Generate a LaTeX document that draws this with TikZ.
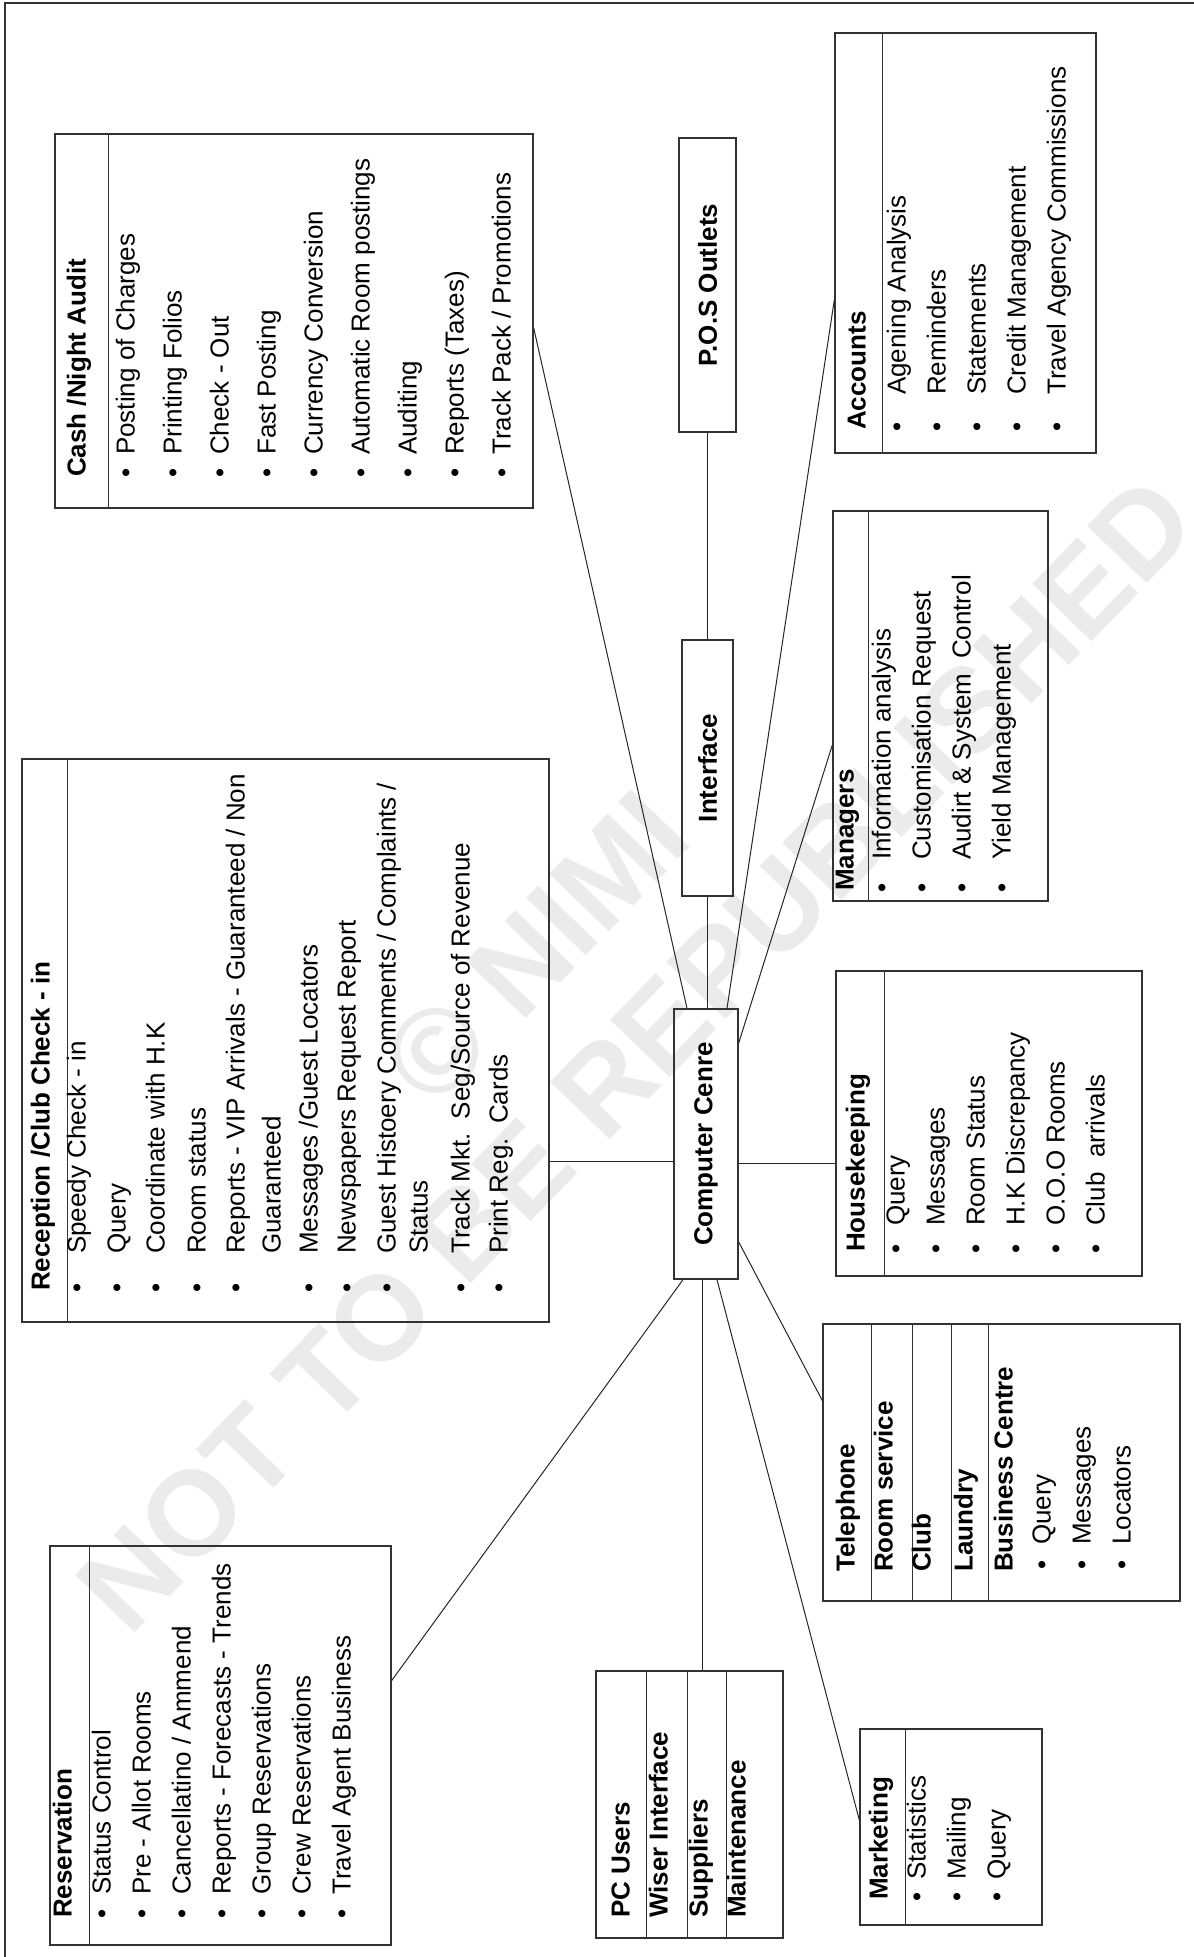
\documentclass[tikz,border=0pt]{standalone}
\usepackage{fontspec}
\setmainfont{Liberation Sans}
\usepackage{graphicx}
\usetikzlibrary{positioning,calc}
\newcommand{\diafont}{\fontsize{26pt}{31pt}\selectfont}

\begin{document}
\begin{tikzpicture}[
    x=1pt, y=-1pt,
    rule/.style={draw=black!80, line width=1.4pt},
    box/.style={rule, inner sep=0pt},
    lbl/.style={font=\diafont\bfseries},
    ttl/.style={rotate=90, anchor=mid west, inner sep=0pt, font=\diafont\bfseries},
    itm/.style={rotate=90, anchor=mid west, inner sep=0pt, font=\diafont},
    bul/.style={rotate=90, anchor=mid, inner sep=0pt, font=\diafont},
    link/.style={draw=black!85, line width=1pt},
    wmark/.style={rotate=46, font=\fontsize{120pt}{130pt}\selectfont\bfseries, text=black!8}
]
\useasboundingbox (0,0) rectangle (1194,1957);

% watermark
\node[wmark] (wm1) at (536,948) {\textcopyright\ NIMI};
\node[wmark] (wm2) at (636,1054) {NOT TO BE REPUBLISHED};

% frame
\draw[rule] (5,1957) -- (5,3) -- (1194,3);

% boxes
\node[box, minimum width=478, minimum height=374] (cash) at (294,321) {};
\node[box, lbl, minimum width=57, minimum height=294] (pos) at (707.5,285) {\rotatebox{90}{P.O.S Outlets}};
\node[box, lbl, minimum width=51, minimum height=256] (ifc) at (707.5,768) {\rotatebox{90}{Interface}};
\node[box, lbl, minimum width=64, minimum height=270] (cc) at (706,1144) {\rotatebox{90}{Computer Cenre}};
\node[box, minimum width=261, minimum height=420] (acc) at (965.5,243) {};
\node[box, minimum width=215, minimum height=390] (mgr) at (940.5,706) {};
\node[box, minimum width=306, minimum height=305] (hk) at (989,1123.5) {};
\node[box, minimum width=357, minimum height=277] (tel) at (1001.5,1462.5) {};
\node[box, minimum width=527, minimum height=563] (rec) at (285.5,1040.5) {};
\node[box, minimum width=341, minimum height=399] (res) at (220.5,1745.5) {};
\node[box, minimum width=187, minimum height=267] (pc) at (689.5,1804.5) {};
\node[box, minimum width=182, minimum height=196] (mkt) at (951,1827) {};

% dividers
\foreach \b/\d in {cash/54, acc/48, mgr/36, hk/49, rec/46, res/40, mkt/46,
                   tel/49, tel/90, tel/129, tel/166, pc/51, pc/92, pc/131}
    \draw[rule] ([xshift=\d pt]\b.north west) -- ([xshift=\d pt]\b.south west);

% connectors
\draw[link] (pos) -- (ifc);
\draw[link] (ifc.south) -- (ifc.south |- cc.north);
\draw[link] ([xshift=-19pt]cc.north) -- ([yshift=-7pt]cash.east);
\draw[link] ([xshift=21pt]cc.north) -- ([yshift=-57pt]acc.west);
\draw[link] ([yshift=101pt]cc.east) -- ([yshift=-39pt]mgr.west);
\draw[link] ([yshift=-19pt]cc.east) -- ([yshift=-19pt]cc.east -| hk.west);
\draw[link] ([yshift=-17pt]cc.west) -- ([yshift=-17pt]cc.west -| rec.east);
\draw[link] ([yshift=-98pt]cc.east) -- ([yshift=62pt]tel.west);
\draw[link] ([xshift=-23pt]cc.south) -- ([yshift=65pt]res.east);
\draw[link] ([xshift=-4pt]cc.south) -- ([xshift=-4pt]cc.south |- pc.north);
\draw[link] ([xshift=11pt]cc.south) -- ([yshift=7pt]mkt.west);

% Cash / Night Audit
\node[ttl] (casht) at (83,477) {Cash /Night Audit};
\foreach \t [count=\i from 0] in {Posting of Charges, Printing Folios, Check - Out, Fast Posting,
        Currency Conversion, Automatic Room postings, Auditing, Reports (Taxes), Track Pack / Promotions} {
    \node[bul] (cashb\i) at ({132+47*\i},473) {\textbullet};
    \node[itm] (cash\i) at ({132+47*\i},455) {\t};
}

% Accounts
\node[ttl] (acct) at (863,430) {Accounts};
\foreach \t [count=\i from 0] in {Agening Analysis, Reminders, Statements, Credit Management,
        Travel Agency Commissions} {
    \node[bul] (accb\i) at ({903+40*\i},427) {\textbullet};
    \node[itm] (acc\i) at ({903+40*\i},395) {\t};
}

% Managers
\node[ttl] (mgrt) at (851,891) {Managers};
\foreach \t [count=\i from 0] in {Information analysis, Customisation Request,
        Audirt \& System\ \ Control, Yield Management} {
    \node[bul] (mgrb\i) at ({888+40*\i},888) {\textbullet};
    \node[itm] (mgr\i) at ({888+40*\i},860) {\t};
}

% Housekeeping
\node[ttl] (hkt) at (862,1252) {Housekeeping};
\foreach \t [count=\i from 0] in {Query, Messages, Room Status, H.K Discrepancy, O.O.O Rooms, Club\ \ arrivals} {
    \node[bul] (hkb\i) at ({902+40*\i},1249) {\textbullet};
    \node[itm] (hk\i) at ({902+40*\i},1226) {\t};
}

% Telephone and others
\foreach \x/\t [count=\i] in {852/Telephone, 890/Room service, 928/Club, 970/Laundry, 1010/Business Centre}
    \node[ttl] (telt\i) at (\x,1572) {\t};
\foreach \t [count=\i from 0] in {Query, Messages, Locators} {
    \node[bul] (telb\i) at ({1048+40*\i},1565) {\textbullet};
    \node[itm] (tel\i) at ({1048+40*\i},1545) {\t};
}

% Reception / Club Check - in
\node[ttl] (rect) at (47,1291) {Reception /Club Check - in};
\foreach \x [count=\i] in {83,123,162,203,242,315,353,393,467,505}
    \node[bul] (recb\i) at (\x,1288) {\textbullet};
\foreach \x/\t [count=\i] in {83/{Speedy Check - in}, 123/Query, 162/{Coordinate with H.K}, 203/{Room status},
        242/{Reports - VIP Arrivals - Guaranteed / Non}, 278/Guaranteed, 315/{Messages /Guest Locators},
        353/{Newspapers Request Report}, 393/{Guest Histoery Comments / Complaints /}, 425/Status,
        467/{Track Mkt.\ \ Seg/Source of Revenue}, 505/{Print Reg.\ \ Cards}}
    \node[itm] (rec\i) at (\x,1254) {\t};

% Reservation
\node[ttl] (rest) at (69,1918) {Reservation};
\foreach \t [count=\i from 0] in {Status Control, Pre - Allot Rooms, Cancellatino / Ammend,
        Reports - Forecasts - Trends, Group Reservations, Crew Reservations, Travel Agent Business} {
    \node[bul] (resb\i) at ({108+40*\i},1914) {\textbullet};
    \node[itm] (res\i) at ({108+40*\i},1895) {\t};
}

% PC users
\foreach \x/\t [count=\i] in {627/PC Users, 665/Wiser Interface, 705/Suppliers, 743/Maintenance}
    \node[ttl] (pct\i) at (\x,1918) {\t};

% Marketing
\node[ttl] (mktt) at (885,1900) {Marketing};
\foreach \t [count=\i from 0] in {Statistics, Mailing, Query} {
    \node[bul] (mktb\i) at ({923+40*\i},1897) {\textbullet};
    \node[itm] (mkt\i) at ({923+40*\i},1880) {\t};
}
\end{tikzpicture}
\end{document}
